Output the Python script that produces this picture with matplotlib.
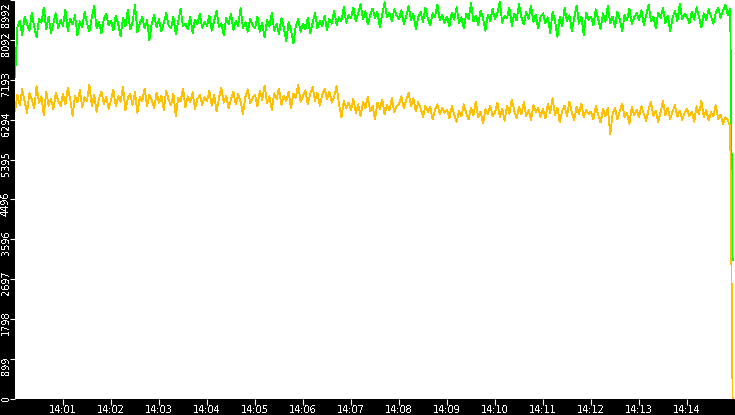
import numpy as np
import matplotlib
matplotlib.use('Agg')
import matplotlib.pyplot as plt
from matplotlib import transforms

matplotlib.rc('font', family='DejaVu Sans')
plt.rcParams['text.antialiased'] = False

# samples every 3 s from 14:00:00, last one is the drop at the end
green = [
    7250, 8380, 8520, 8210, 8610, 8450, 8300, 8700, 8390, 8150, 8560, 8480, 8820, 8330, 8620, 8250, 8470, 8690, 8360, 8540,
    8410, 8780, 8300, 8560, 8440, 8650, 8200, 8510, 8380, 8720, 8460, 8290, 8600, 8850, 8350, 8490, 8240, 8570, 8680, 8420,
    8530, 8310, 8640, 8450, 8180, 8590, 8400, 8760, 8330, 8500, 8880, 8270, 8460, 8610, 8350, 8540, 8090, 8470, 8650, 8380,
    8560, 8290, 8480, 8700, 8420, 8350, 8610, 8220, 8510, 8790, 8400, 8460, 8330, 8620, 8250, 8550, 8440, 8680, 8370, 8500,
    8410, 8640, 8300, 8530, 8750, 8380, 8470, 8190, 8590, 8450, 8680, 8320, 8520, 8410, 8810, 8360, 8490, 8280, 8570, 8430,
    8350, 8620, 8280, 8470, 8150, 8540, 8390, 8700, 8300, 8450, 8230, 8580, 8370, 8060, 8490, 8320, 8010, 8410, 8560, 8280,
    8460, 8330, 8590, 8250, 8480, 8700, 8360, 8520, 8400, 8640, 8310, 8570, 8460, 8750, 8430, 8600, 8520, 8830, 8480, 8660,
    8580, 8820, 8510, 8690, 8900, 8560, 8740, 8450, 8650, 8800, 8590, 8720, 8380, 8660, 8940, 8600, 8710, 8520, 8780, 8640,
    8560, 8760, 8450, 8630, 8850, 8540, 8680, 8330, 8600, 8720, 8500, 8810, 8580, 8420, 8690, 8610, 8890, 8530, 8650, 8480,
    8620, 8400, 8710, 8550, 8830, 8480, 8600, 8350, 8680, 8560, 8920, 8510, 8640, 8430, 8750, 8580, 8300, 8660, 8520, 8790,
    8560, 8700, 8950, 8480, 8640, 8590, 8820, 8410, 8680, 8530, 8900, 8600, 8450, 8720, 8570, 8860, 8500, 8660, 8350, 8620,
    8690, 8470, 8600, 8250, 8730, 8540, 8160, 8620, 8400, 8810, 8510, 8650, 8300, 8580, 8870, 8460, 8620, 8200, 8700, 8550,
    8610, 8420, 8780, 8560, 8340, 8690, 8500, 8850, 8470, 8620, 8390, 8730, 8560, 8280, 8660, 8530, 8800, 8450, 8600, 8700,
    8540, 8760, 8430, 8650, 8880, 8510, 8620, 8350, 8700, 8580, 8820, 8470, 8640, 8290, 8600, 8750, 8520, 8900, 8560, 8680,
    8610, 8470, 8720, 8550, 8830, 8600, 8380, 8690, 8540, 8780, 8620, 8460, 8700, 8820, 8590, 8760, 8880, 8650, 8800, 3130,
]
yellow = [
    6490, 6850, 6620, 6980, 6710, 6450, 6890, 6760, 6550, 7050, 6680, 6820, 6400, 6930, 6610, 6770, 6530, 6900, 6720, 6600,
    6880, 6640, 7020, 6750, 6380, 6830, 6690, 6960, 6570, 6800, 6720, 7080, 6610, 6850, 6470, 6770, 6930, 6650, 6810, 6540,
    6740, 6970, 6590, 6820, 6700, 7030, 6500, 6780, 6880, 6630, 6920, 6450, 6800, 6710, 6990, 6600, 6850, 6730, 6560, 6900,
    6680, 6830, 6520, 6950, 6740, 6620, 6880, 6370, 6790, 6710, 7000, 6580, 6820, 6690, 6910, 6540, 6760, 6860, 6630, 6800,
    6720, 6940, 6610, 6850, 6480, 6790, 7010, 6680, 6830, 6560, 6760, 6920, 6640, 6870, 6700, 6420, 6810, 6980, 6660, 6780,
    6860, 6590, 6950, 6740, 7060, 6670, 6820, 6510, 6890, 6760, 7000, 6630, 6840, 6720, 6930, 6550, 6880, 6790, 7080, 6700,
    6830, 6960, 6640, 6880, 7040, 6720, 6900, 6610, 6850, 6990, 6760, 6930, 6680, 6820, 7050, 6640, 6350, 6710, 6560, 6680,
    6520, 6760, 6450, 6640, 6380, 6700, 6560, 6820, 6490, 6610, 6300, 6680, 6540, 6750, 6420, 6630, 6510, 6780, 6470, 6600,
    6650, 6820, 6560, 6740, 6900, 6600, 6780, 6480, 6690, 6550, 6360, 6610, 6470, 6580, 6300, 6520, 6640, 6410, 6560, 6450,
    6520, 6330, 6600, 6410, 6250, 6490, 6370, 6640, 6440, 6300, 6560, 6400, 6700, 6350, 6480, 6210, 6530, 6420, 6610, 6380,
    6460, 6680, 6350, 6540, 6270, 6610, 6430, 6750, 6500, 6330, 6580, 6420, 6690, 6380, 6520, 6290, 6620, 6470, 6560, 6360,
    6540, 6320, 6650, 6450, 6780, 6400, 6570, 6230, 6500, 6610, 6370, 6700, 6460, 6290, 6590, 6430, 6660, 6350, 6520, 6420,
    6480, 6300, 6600, 6400, 6230, 6530, 6380, 6560, 5960, 6420, 6560, 6310, 6490, 6660, 6350, 6450, 6200, 6580, 6400, 6520,
    6350, 6600, 6420, 6270, 6530, 6690, 6380, 6500, 6240, 6470, 6720, 6400, 6560, 6310, 6480, 6620, 6360, 6500, 6290, 6450,
    6540, 6380, 6480, 6250, 6600, 6420, 6720, 6350, 6510, 6280, 6460, 6380, 6620, 6300, 6410, 6200, 6350, 6280, 6150, 0,
]
y_max = 8992
minute_ticks = list(range(1, 15))
minute_labels = ['14:%02d' % m for m in minute_ticks]

t = np.arange(len(green)) * 3.0  # seconds after 14:00

fig = plt.figure(figsize=(7.35, 4.15), dpi=100, facecolor='black')
ax = fig.add_axes([15 / 735, 16 / 415, 720 / 735, 399 / 415])
ax.set_facecolor('white')

ax.plot(t, green, color='#00ff00', lw=0.6, antialiased=False)
ax.plot(t, yellow, color='#ffc000', lw=0.6, antialiased=False)

ax.set_xlim(0, 900)
ax.set_ylim(0, y_max)
for s in ax.spines.values():
    s.set_visible(False)

ax.set_xticks([m * 60 for m in minute_ticks])
ax.set_xticklabels(minute_labels)
yticks = [int(i * y_max / 10) for i in range(11)]
ax.set_yticks(yticks)
ax.tick_params(axis='x', direction='out', length=4, width=0.8, color='white',
               labelcolor='white', labelsize=7, pad=0.5)
ax.tick_params(axis='y', direction='out', length=3.6, width=0.8, color='white',
               labelleft=False)

# rotated y labels, sitting just below their ticks
for v in yticks:
    if v == 0:
        dy, va = -2, 'bottom'
    elif v == y_max:
        dy, va = -2, 'top'
    else:
        dy, va = -16, 'bottom'
    tr = transforms.offset_copy(ax.get_yaxis_transform(), fig=fig, x=-4, y=dy, units='dots')
    ax.text(0, v, str(v), transform=tr, rotation=90, ha='right', va=va,
            color='white', fontsize=7, clip_on=False)

plt.savefig('out.png', dpi=100, facecolor='black')
plt.close()
